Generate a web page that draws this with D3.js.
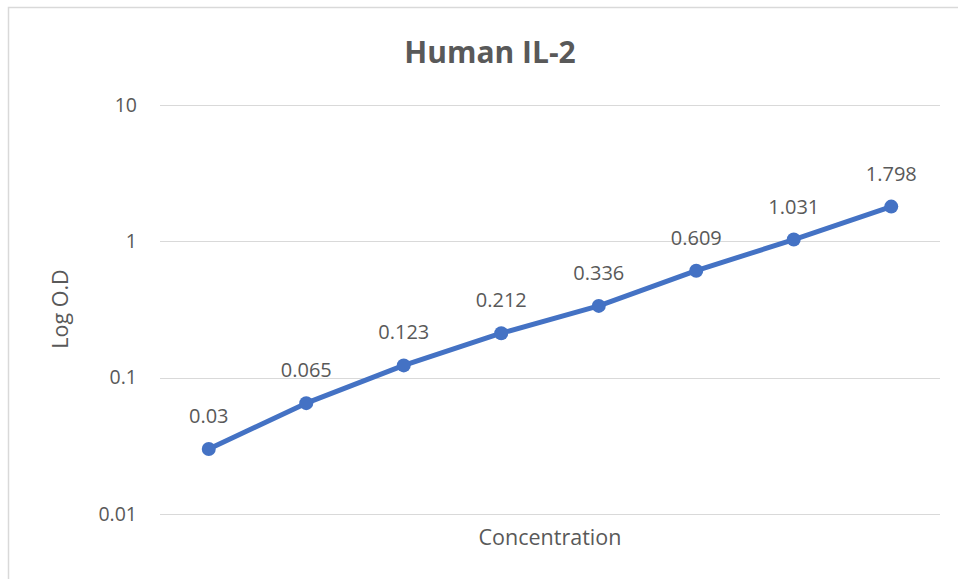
<!DOCTYPE html>
<html lang="en">
<head>
<meta charset="utf-8">
<title>Human IL-2</title>
<style>
    body { margin: 0; background: #fff; }
    .grid line { stroke: #d9d9d9; stroke-width: 1.3px; shape-rendering: crispEdges; }
    .grid path { display: none; }
    .tick-label, .axis-title, .point-label {
        font-family: "Open Sans", sans-serif;
        fill: #595959;
    }
    .line { fill: none; stroke: #4472c4; stroke-width: 5px; stroke-linejoin: round; }
</style>
</head>
<body>
<svg width="958" height="579"></svg>
<script src="https://cdn.jsdelivr.net/npm/d3@7"></script>
<script>
    // data
    const categories = ["c1", "c2", "c3", "c4", "c5", "c6", "c7", "c8"];
    const odValues = [0.03, 0.065, 0.123, 0.212, 0.336, 0.609, 1.031, 1.798];
    const yTicks = [0.01, 0.1, 1, 10];

    const svg = d3.select("svg");

    // chart border
    svg.append("rect")
        .attr("x", 8.5).attr("y", 7.5)
        .attr("width", 1000).attr("height", 1000)
        .attr("fill", "none")
        .attr("stroke", "#d9d9d9")
        .attr("stroke-width", 1.5);

    const plot = {left: 160, right: 940, top: 105, bottom: 514};

    const x = d3.scaleBand().domain(categories).range([plot.left, plot.right]);
    const y = d3.scaleLog().domain([0.01, 10]).range([plot.bottom, plot.top]);

    // gridlines
    svg.append("g")
        .attr("class", "grid")
        .attr("transform", "translate(" + plot.left + ",0)")
        .call(d3.axisRight(y).tickValues(yTicks).tickSize(plot.right - plot.left).tickFormat(""));

    // y tick labels
    svg.append("g").selectAll("text")
        .data(yTicks)
        .enter()
        .append("text")
        .attr("class", "tick-label")
        .attr("x", 137)
        .attr("y", d => y(d))
        .attr("dy", "0.35em")
        .attr("text-anchor", "end")
        .style("font-size", "19.5px")
        .text(d => d3.format("~g")(d));

    // title
    svg.append("text")
        .attr("class", "axis-title")
        .attr("x", 490).attr("y", 63)
        .attr("text-anchor", "middle")
        .style("font-size", "30px")
        .style("font-weight", "bold")
        .text("Human IL-2");

    svg.append("text")
        .attr("class", "axis-title")
        .attr("x", 550).attr("y", 545)
        .attr("text-anchor", "middle")
        .style("font-size", "21.5px")
        .text("Concentration");

    svg.append("text")
        .attr("class", "axis-title")
        .attr("transform", "translate(68,309) rotate(-90)")
        .attr("text-anchor", "middle")
        .style("font-size", "21.5px")
        .text("Log O.D");

    const pts = categories.map((c, i) => ({c: c, v: odValues[i]}));

    const line = d3.line()
        .x(d => x(d.c) + x.bandwidth() / 2)
        .y(d => y(d.v));

    svg.append("path")
        .datum(pts)
        .attr("class", "line")
        .attr("d", line);

    svg.append("g").selectAll("circle")
        .data(pts)
        .enter()
        .append("circle")
        .attr("cx", d => x(d.c) + x.bandwidth() / 2)
        .attr("cy", d => y(d.v))
        .attr("r", 7)
        .attr("fill", "#4472c4");

    svg.append("g").selectAll("text")
        .data(pts)
        .enter()
        .append("text")
        .attr("class", "point-label")
        .attr("x", d => x(d.c) + x.bandwidth() / 2)
        .attr("y", d => y(d.v) - 26)
        .attr("text-anchor", "middle")
        .style("font-size", "20px")
        .text(d => d.v);
</script>
</body>
</html>
